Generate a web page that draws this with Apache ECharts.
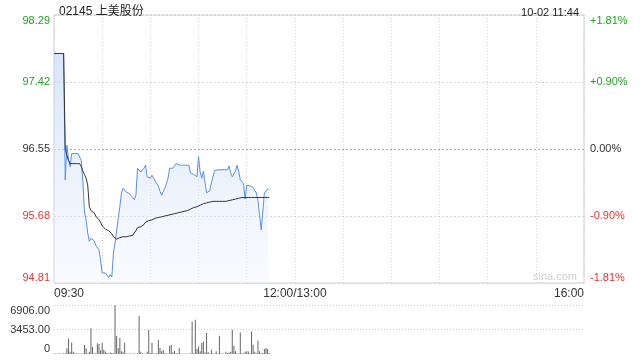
<!DOCTYPE html>
<html><head><meta charset="utf-8">
<script src="https://cdn.jsdelivr.net/npm/echarts@6/dist/echarts.min.js"></script>
<style>html,body{margin:0;padding:0;background:#fff}#c{width:640px;height:360px}</style>
</head><body><div id="c"></div>
<script>
const titleText = '02145 上美股份';
const stampText = '10-02 11:44';
const priceTicks = ['94.81','95.68','96.55','97.42','98.29'];
const pctTicks = ['-1.81%','-0.90%','0.00%','+0.90%','+1.81%'];
const volTicks = ['0','3453.00','6906.00'];
const timeTicks = {0:'09:30',150:'12:00/13:00',330:'16:00'};

const price = [
97.79,97.79,97.79,97.79,97.79,97.79,97.79,96.15,96.60,96.43,
96.32,96.49,96.49,96.49,96.49,96.49,96.49,96.40,96.12,95.73,
95.63,95.46,95.35,95.39,95.39,95.36,95.30,95.28,95.24,95.11,
94.94,94.94,94.94,94.92,94.88,94.92,94.89,95.20,95.33,95.35,
95.65,95.80,95.98,96.04,96.02,95.99,95.99,95.97,95.96,95.92,
95.89,95.95,96.30,96.28,96.25,96.25,96.30,96.34,96.19,96.19,
96.17,96.21,96.17,96.19,96.10,96.07,96.00,95.95,95.93,96.04,
96.10,96.17,96.30,96.32,96.30,96.33,96.36,96.38,96.34,96.34,
96.34,96.34,96.34,96.34,96.34,96.24,96.23,96.22,96.20,96.19,
96.45,96.25,96.17,96.26,96.12,95.98,95.98,96.01,96.11,96.19,
96.27,96.28,96.28,96.28,96.28,96.28,96.28,96.28,96.28,96.33,
96.24,96.19,96.17,96.26,96.34,96.26,96.15,96.14,96.10,95.90,
96.08,96.10,96.07,96.05,96.05,96.01,95.98,95.88,95.69,95.50,
95.50,95.98,96.00,96.03,96.03
];
const avgPrice = [
97.79,97.79,97.79,97.79,97.79,97.79,97.79,96.55,96.47,96.40,
96.36,96.36,96.36,96.36,96.36,96.36,96.36,96.32,96.26,96.22,
96.17,96.08,95.80,95.75,95.74,95.72,95.68,95.66,95.63,95.60,
95.55,95.53,95.51,95.50,95.49,95.47,95.45,95.41,95.39,95.38,
95.38,95.40,95.40,95.41,95.41,95.41,95.41,95.42,95.42,95.43,
95.45,95.49,95.53,95.54,95.54,95.55,95.57,95.60,95.61,95.62,
95.63,95.63,95.64,95.65,95.65,95.66,95.66,95.67,95.67,95.68,
95.68,95.69,95.69,95.70,95.71,95.71,95.72,95.72,95.73,95.73,
95.73,95.74,95.74,95.75,95.76,95.77,95.78,95.79,95.79,95.80,
95.81,95.82,95.83,95.84,95.85,95.85,95.86,95.86,95.86,95.87,
95.87,95.87,95.87,95.87,95.87,95.87,95.87,95.87,95.87,95.88,
95.89,95.89,95.90,95.90,95.91,95.91,95.91,95.92,95.92,95.92,
95.92,95.92,95.92,95.92,95.92,95.92,95.92,95.92,95.92,95.92,
95.92,95.92,95.92,95.92,95.92
];
const volume = [
80,60,50,60,70,40,90,120,800,2200,
300,1600,300,100,60,80,50,60,80,1270,
800,100,300,3620,1030,80,100,1500,1410,500,
1600,600,350,150,80,200,150,100,6906,2540,
800,2240,400,250,1600,60,50,80,40,60,
70,50,90,5360,300,100,60,50,300,3380,
150,1600,80,60,100,1970,840,370,600,150,
80,60,1170,1300,200,470,60,150,840,60,
50,40,60,80,50,60,4580,100,4810,700,
1070,400,1540,1770,200,3000,250,80,600,60,
80,400,60,2570,80,60,50,300,150,200,
300,3410,1170,400,60,80,3040,100,80,300,
400,350,100,3180,1300,300,100,1910,400,60,
150,700,840,700,150
];

const GREEN = '#1ea51e', RED = '#ee3333', DARK = '#333';
const FONT = 'Liberation Sans, Arial, sans-serif';

const priceRich = {
  gt:{color:GREEN,fontSize:11,fontFamily:FONT,padding:[11,0,0,0]},
  g:{color:GREEN,fontSize:11,fontFamily:FONT},
  k:{color:DARK,fontSize:11,fontFamily:FONT},
  r:{color:RED,fontSize:11,fontFamily:FONT},
  rb:{color:RED,fontSize:11,fontFamily:FONT,padding:[0,0,11,0]}
};
const styleKeys = ['rb','r','k','g','gt'];
function tickFmt(list){
  return function(v, i){ return '{' + styleKeys[i] + '|' + list[i] + '}'; };
}
const volRich = {
  t:{color:DARK,fontSize:11,fontFamily:FONT,padding:[11,0,0,0]},
  m:{color:DARK,fontSize:11,fontFamily:FONT},
  b:{color:DARK,fontSize:11,fontFamily:FONT,padding:[0,0,11,0]}
};
const volKeys = ['b','m','t'];

const chart = echarts.init(document.getElementById('c'), null, {renderer:'canvas'});
chart.setOption({
  animation:false,
  backgroundColor:'#fff',
  title:[
    {text:titleText,left:54,top:1,textStyle:{fontSize:12,fontWeight:'normal',color:'#222',fontFamily:'Liberation Sans, Noto Sans CJK SC, sans-serif'}},
    {text:stampText,right:56,top:2,textStyle:{fontSize:11,fontWeight:'normal',color:'#222',fontFamily:FONT}}
  ],
  graphic:[{type:'text',left:533,top:271,silent:true,style:{text:'sina.com',fill:'#cfcfcf',font:'11px '+FONT}}],
  grid:[
    {left:54,right:56,top:15,height:268,show:true,borderColor:'#cfcfcf',borderWidth:1},
    {left:54,right:56,top:305,height:49}
  ],
  xAxis:[
    {type:'value',gridIndex:0,min:0,max:330,interval:30,
     axisLine:{show:false},axisTick:{show:false},
     splitLine:{show:true,lineStyle:{color:'#d5d5d5',type:[1,2]}},
     axisLabel:{show:true,margin:5,color:DARK,fontSize:12,fontFamily:FONT,
       alignMinLabel:'left',alignMaxLabel:'right',
       formatter:function(v){return timeTicks[v]!==undefined?timeTicks[v]:'';}}},
    {type:'value',gridIndex:1,min:0,max:330,interval:30,
     axisLine:{show:false},axisTick:{show:false},axisLabel:{show:false},splitLine:{show:false}}
  ],
  yAxis:[
    {type:'value',gridIndex:0,min:94.81,max:98.29,interval:0.87,position:'left',
     axisLine:{show:false},axisTick:{show:false},
     splitLine:{show:true,lineStyle:{color:['#d5d5d5','#d5d5d5','#aaaaaa','#d5d5d5','#d5d5d5'],type:[2,2]}},
     axisLabel:{margin:4,formatter:tickFmt(priceTicks),rich:priceRich}},
    {type:'value',gridIndex:0,min:94.81,max:98.29,interval:0.87,position:'right',
     axisLine:{show:false},axisTick:{show:false},splitLine:{show:false},
     axisLabel:{margin:6,formatter:tickFmt(pctTicks),rich:priceRich}},
    {type:'value',gridIndex:1,min:0,max:6906,interval:3453,position:'left',
     axisLine:{show:false},axisTick:{show:false},
     splitLine:{show:true,lineStyle:{color:['transparent','#cccccc','#cccccc'],type:[1,2]}},
     axisLabel:{margin:4,formatter:function(v,i){return '{'+volKeys[i]+'|'+volTicks[i]+'}';},rich:volRich}}
  ],
  series:[
    {type:'line',xAxisIndex:0,yAxisIndex:0,symbol:'none',
     data:price.map((p,i)=>[i,p]),
     lineStyle:{color:'#5b8fe6',width:1},
     areaStyle:{origin:'start',color:new echarts.graphic.LinearGradient(0,0,0,1,[
       {offset:0,color:'rgba(196,216,246,0.95)'},{offset:1,color:'rgba(240,245,254,0.6)'}])},
     z:2},
    {type:'line',xAxisIndex:0,yAxisIndex:0,symbol:'none',
     data:avgPrice.map((p,i)=>[i,p]),
     lineStyle:{color:'#333',width:1},z:3},
    {type:'bar',xAxisIndex:1,yAxisIndex:2,
     data:volume.map((v,i)=>[i,v]),
     barWidth:1,itemStyle:{color:'#666'}}
  ]
});
</script></body></html>
